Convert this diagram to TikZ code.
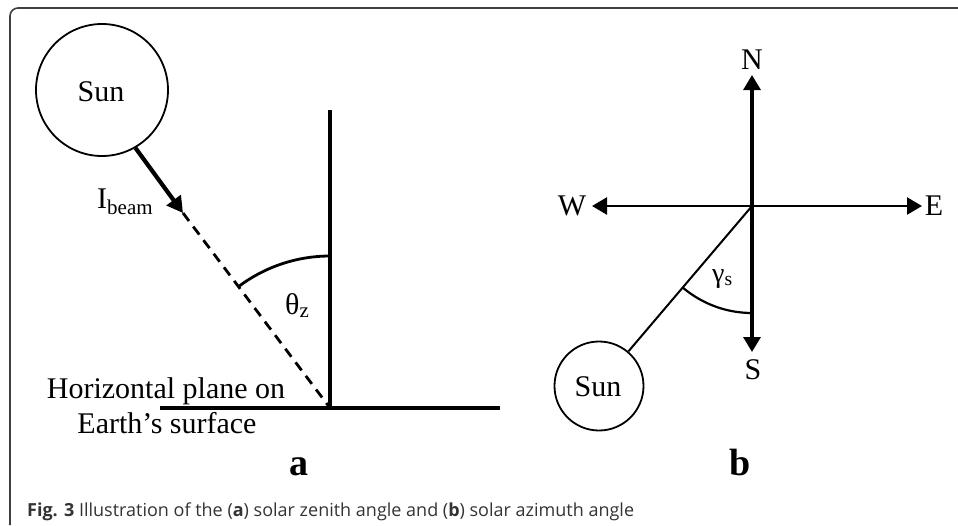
\documentclass[tikz,border=0pt]{standalone}
\usepackage{fontspec}
\setmainfont{Liberation Serif}
\newfontfamily\capfont{Open Sans}
\usetikzlibrary{arrows.meta}
\begin{document}
\begin{tikzpicture}[x=1pt,y=-1pt,
  lbl/.style={inner sep=0pt,font=\fontsize{30}{36}\selectfont},
  sunnode/.style={circle,draw,line width=1.8pt,inner sep=0pt,font=\fontsize{30}{36}\selectfont},
  panel/.style={inner sep=0pt,font=\fontsize{38}{44}\selectfont\bfseries},
  bigarrow/.style={line width=4.2pt,-{Triangle[length=16pt,width=17pt]}},
  compass/.style={line width=3.2pt,-{Triangle[length=15pt,width=17pt]}},
  frameline/.style={draw=black!75,line width=1.6pt,rounded corners=8pt}]
\path[use as bounding box] (0,0) rectangle (958,525);
\draw[frameline] (10,525) -- (10,8) -- (958,8);

% panel a
\node[sunnode,minimum size=132pt] (sunA) at (102,90) {};
\node[lbl] (sunAt) at (101,92) {Sun};
\coordinate (O) at (330,408);
\coordinate (tip) at (183,213);
\coordinate (Ztop) at (330,110);
\coordinate (H1) at (160,408);
\coordinate (H2) at (500,408);
\draw[bigarrow] (sunA.-60) -- (tip);
\draw[line width=2.8pt,dash pattern=on 10pt off 7pt] (tip) -- (O);
\draw[line width=3.2pt] (O) -- (Ztop);
\draw[line width=3.2pt] (H1) -- (H2);
\draw[line width=2.8pt] ([shift={(-127:152)}]O) arc[start angle=-127,end angle=-90,radius=152];
\node[lbl,anchor=base west] (Ib) at (97,208) {I\textsubscript{beam}};
\node[lbl,anchor=base west] (thz) at (285,314) {θ\textsubscript{z}};
\node[lbl,anchor=base] (hp1) at (166,398) {Horizontal plane on};
\node[lbl,anchor=base] (hp2) at (167,433) {Earth’s surface};
\node[panel,anchor=base] (pa) at (299,475) {a};

% panel b
\coordinate (C) at (752,206);
\coordinate (Nt) at (752,75);
\coordinate (Wt) at (592,206);
\coordinate (Et) at (922,206);
\coordinate (St) at (752,352);
\draw[compass] (C) -- (Nt);
\draw[compass,line width=2.4pt] (C) -- (Wt);
\draw[compass,line width=2.4pt] (C) -- (Et);
\draw[compass] (C) -- (St);
\node[sunnode,minimum size=89pt] (sunB) at (599,386) {};
\node[lbl] (sunBt) at (598,387) {Sun};
\draw[line width=2pt] (C) -- (sunB);
\draw[line width=2.2pt] ([shift={(130.4:107)}]C) arc[start angle=130.4,end angle=90,radius=107];
\node[lbl,anchor=base] (nN) at (752,69) {N};
\node[lbl,anchor=base] (nW) at (572,215) {W};
\node[lbl,anchor=base] (nE) at (934,215) {E};
\node[lbl,anchor=base] (nS) at (753,379) {S};
\node[inner sep=0pt,font=\fontsize{28}{32}\selectfont,anchor=base west] (gs) at (712,282) {γ\textsubscript{s}};
\node[panel,anchor=base] (pb) at (740,475) {b};

% caption
\node[inner sep=0pt,anchor=base west,text=black!80,font=\capfont\fontsize{18}{21}\selectfont] (cap) at (27,516)
  {\textbf{Fig. 3} Illustration of the (\textbf{a}) solar zenith angle and (\textbf{b}) solar azimuth angle};
\end{tikzpicture}
\end{document}
